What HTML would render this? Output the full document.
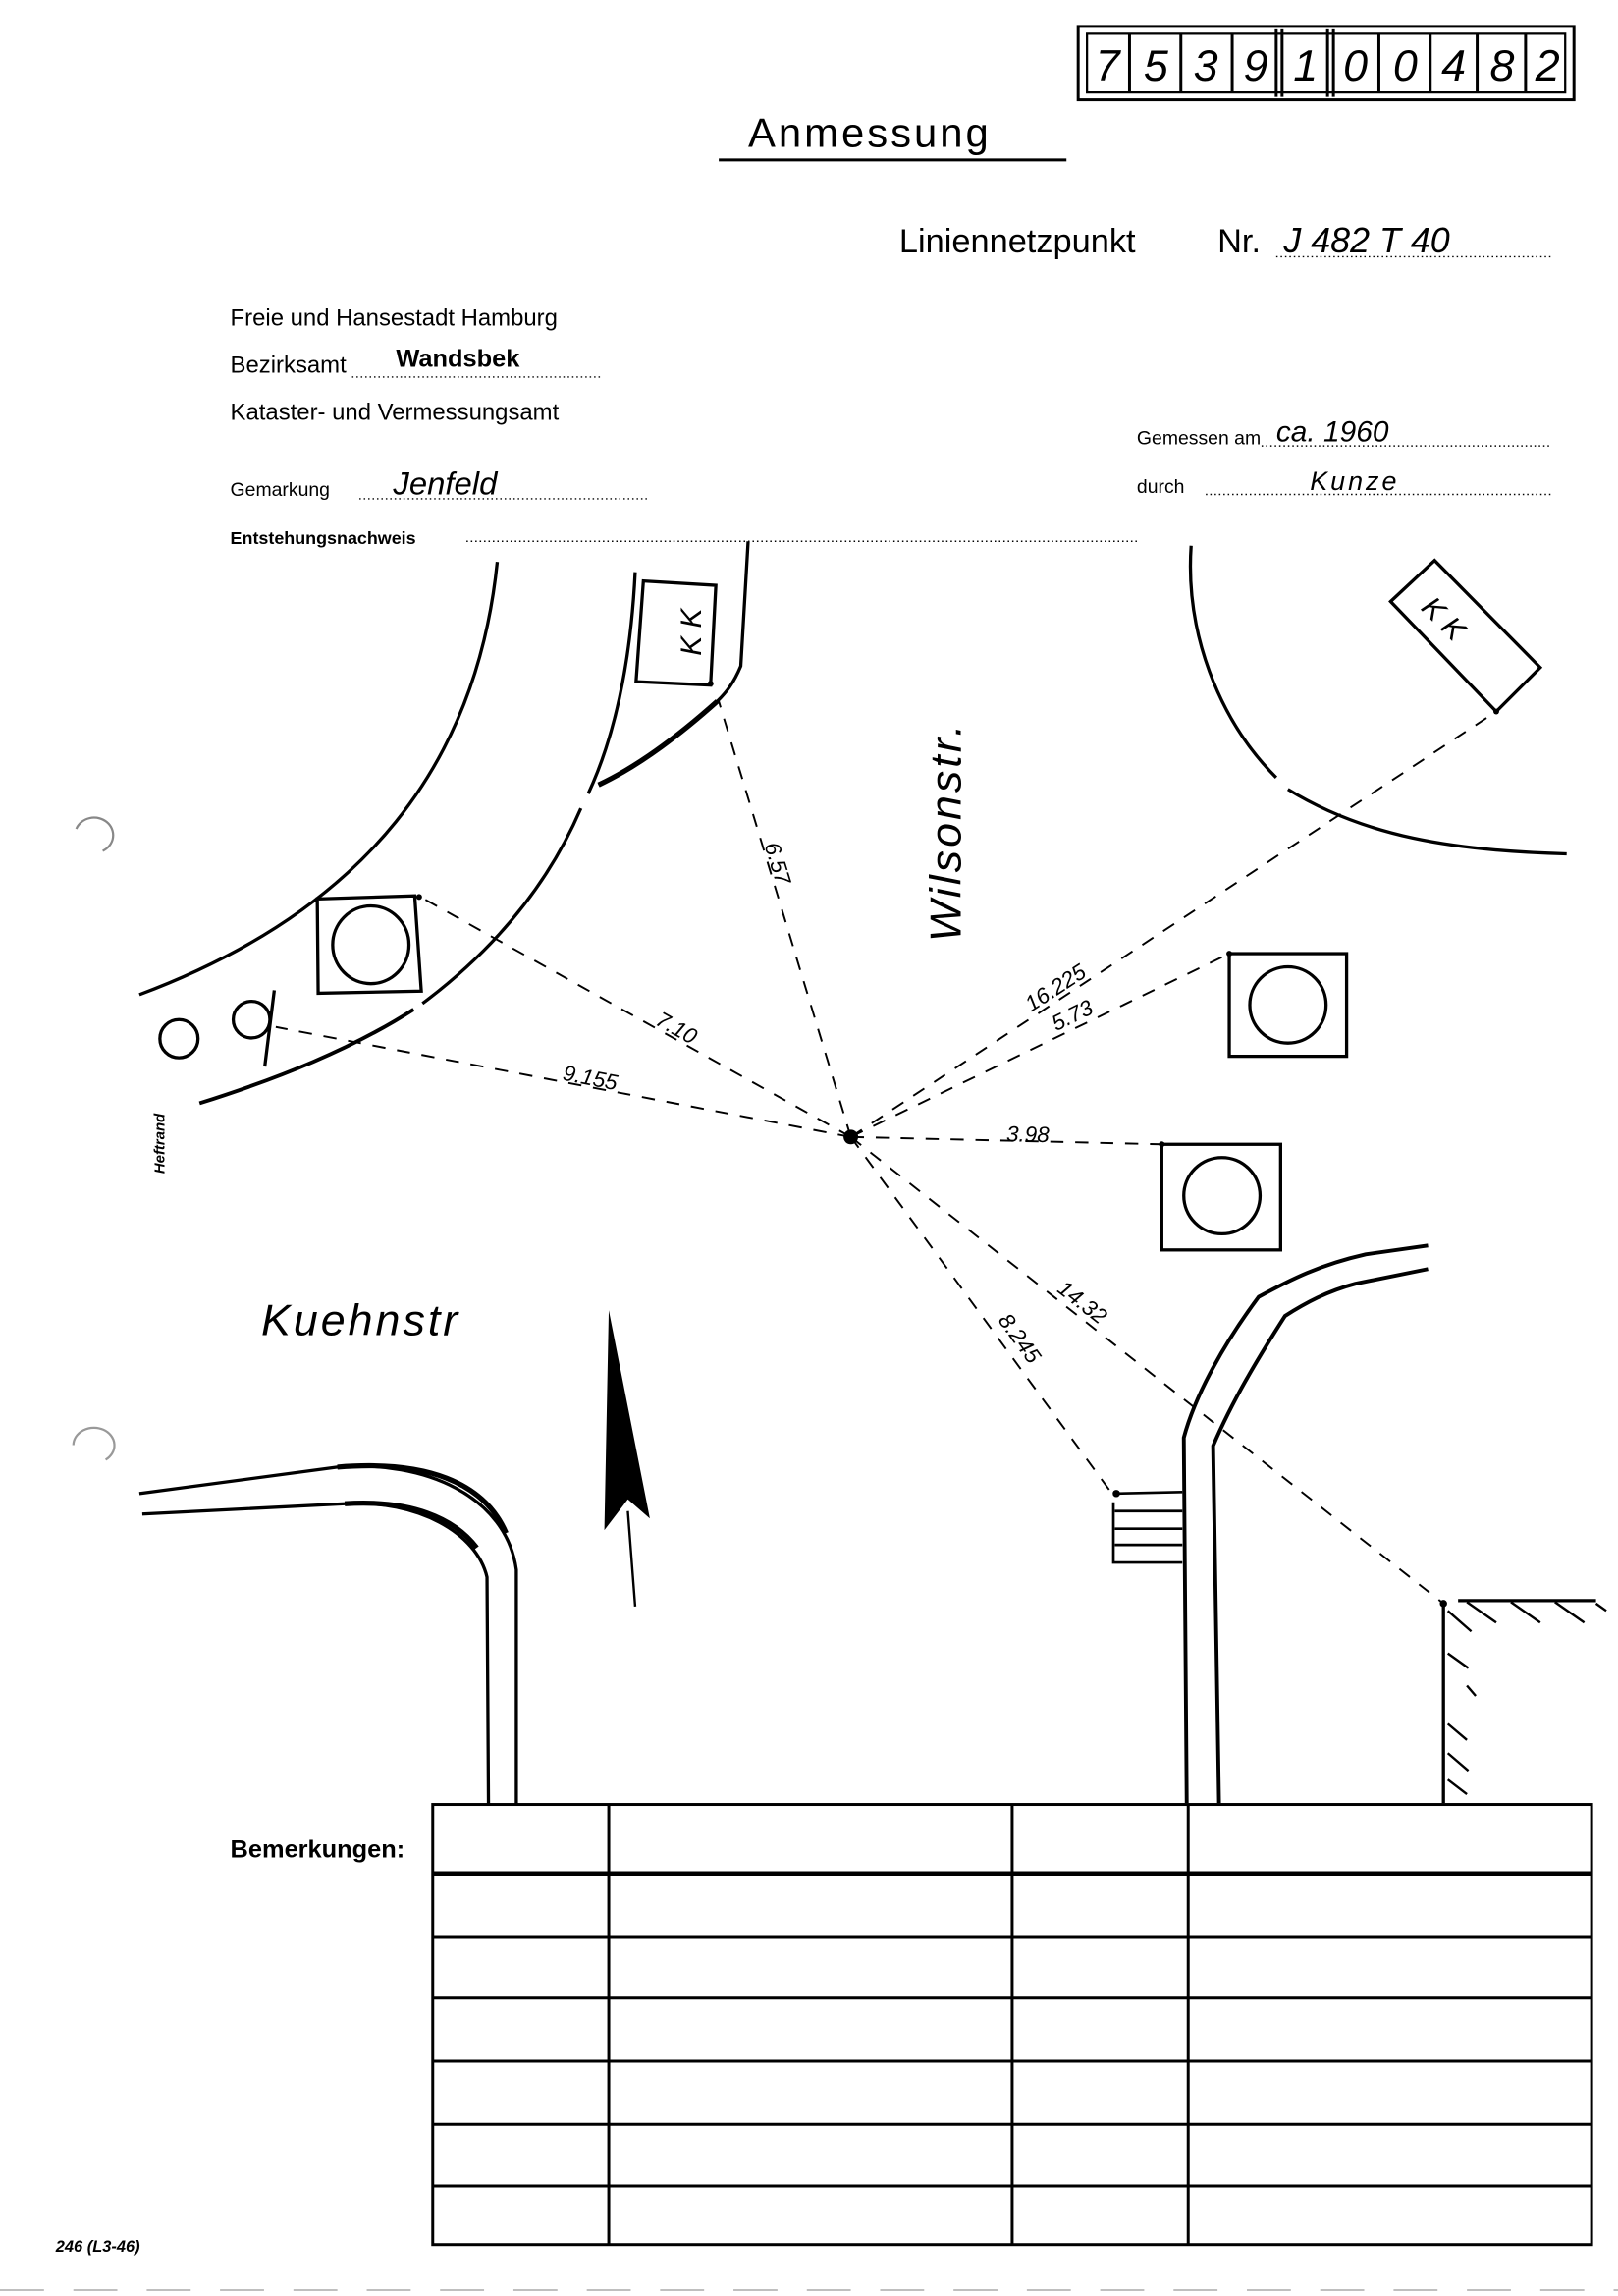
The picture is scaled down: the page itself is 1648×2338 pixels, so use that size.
<!DOCTYPE html>
<html><head><meta charset="utf-8"><style>
html,body{margin:0;padding:0;background:#fff}
svg{display:block}
text{font-family:"Liberation Sans",sans-serif;fill:#000}
.h{font-style:italic}
</style></head><body>
<svg width="1648" height="2338" viewBox="0 0 1103 1565" preserveAspectRatio="none" xmlns="http://www.w3.org/2000/svg">
<rect width="1103" height="1565" fill="#fff"/>
<g stroke="#000" fill="none" stroke-width="2">
<rect x="735" y="18" width="338" height="50"/>
<rect x="741" y="23" width="326" height="40" stroke-width="1.5"/>
<line x1="770" y1="23" x2="770" y2="63"/><line x1="805" y1="23" x2="805" y2="63"/><line x1="840" y1="23" x2="840" y2="63"/>
<line x1="870" y1="20" x2="870" y2="66"/><line x1="874" y1="20" x2="874" y2="66"/>
<line x1="905" y1="20" x2="905" y2="66"/><line x1="909" y1="20" x2="909" y2="66"/>
<line x1="940" y1="23" x2="940" y2="63"/><line x1="975" y1="23" x2="975" y2="63"/><line x1="1007" y1="23" x2="1007" y2="63"/><line x1="1040" y1="23" x2="1040" y2="63"/>
</g>
<g font-size="30" class="h" text-anchor="middle">
<text x="755" y="55">7</text><text x="788" y="55">5</text><text x="822" y="55">3</text><text x="856" y="55">9</text><text x="890" y="55">1</text><text x="924" y="55">0</text><text x="958" y="55">0</text><text x="991" y="55">4</text><text x="1024" y="55">8</text><text x="1055" y="55">2</text>
</g>
<text x="510" y="100" font-size="28" letter-spacing="2">Anmessung</text>
<line x1="490" y1="109" x2="727" y2="109" stroke="#000" stroke-width="2"/>
<text x="613" y="172" font-size="23">Liniennetzpunkt</text>
<text x="830" y="172" font-size="23">Nr.</text>
<text x="875" y="172" font-size="24" class="h">J 482 T 40</text>
<line x1="870" y1="175" x2="1058" y2="175" stroke="#000" stroke-width="1" stroke-dasharray="1,2"/>
<text x="157" y="222" font-size="16">Freie und Hansestadt Hamburg</text>
<text x="157" y="254" font-size="16">Bezirksamt</text>
<text x="270" y="250" font-size="17" font-weight="bold" font-family="Liberation Serif">Wandsbek</text>
<line x1="240" y1="257" x2="410" y2="257" stroke="#000" stroke-dasharray="1,2"/>
<text x="157" y="286" font-size="16">Kataster- und Vermessungsamt</text>
<text x="157" y="338" font-size="13">Gemarkung</text>
<text x="268" y="337" font-size="22" class="h">Jenfeld</text>
<line x1="245" y1="340" x2="443" y2="340" stroke="#000" stroke-dasharray="1,2"/>
<text x="157" y="371" font-size="12" font-weight="bold">Entstehungsnachweis</text>
<line x1="318" y1="369" x2="775" y2="369" stroke="#000" stroke-dasharray="1,2"/>
<text x="775" y="303" font-size="13">Gemessen am</text>
<text x="870" y="301" font-size="20" class="h">ca. 1960</text>
<line x1="860" y1="304" x2="1057" y2="304" stroke="#000" stroke-dasharray="1,2"/>
<text x="775" y="336" font-size="13">durch</text>
<text x="893" y="334" font-size="18" class="h" letter-spacing="2">Kunze</text>
<line x1="822" y1="337" x2="1057" y2="337" stroke="#000" stroke-dasharray="1,2"/>

<path d="M52,565 A13,12 0 1 1 70,580" fill="none" stroke="#888" stroke-width="1.5"/>
<path d="M50,985 A14,12 0 1 1 72,995" fill="none" stroke="#999" stroke-width="1.5"/>

<g fill="none" stroke="#000" stroke-width="2.2">
<path d="M339,383 C325,520 250,620 95,678"/>
<path d="M433,390 C430,450 420,500 401,541"/>
<path d="M396,551 C375,600 340,645 288,684"/>
<path d="M282,688 C240,715 190,735 136,752" stroke-width="2.6"/>
<path d="M510,369 L505,454 C500,466 495,472 489,478 C470,495 440,520 408,535" />
<path d="M489,478 C470,495 440,520 408,535" stroke-width="3.5"/>
<path d="M438.6,396 L488,399 L484.4,467 L433.6,464.6 Z"/>
<path d="M216.3,612.7 L282.7,610.6 L287.2,675.6 L216.9,677 Z"/>
<ellipse cx="252.8" cy="644" rx="26" ry="26.5"/>
<circle cx="122" cy="708" r="13"/>
<circle cx="171.5" cy="695" r="12.5"/>
<line x1="187" y1="675" x2="180.5" y2="727"/>
<path d="M812,372 C808,430 830,490 870,530"/>
<path d="M878,538 C930,570 990,580 1068,582"/>
<path d="M948,410 L978,382 L1050,455 L1020,485 Z"/>
<rect x="838" y="650" width="80" height="70"/><circle cx="878" cy="685" r="26"/>
<rect x="792" y="780" width="81" height="72"/><circle cx="833" cy="815" r="26"/>
<path d="M973.5,849 L931,855 C900,862 880,872 858,884 C835,915 815,950 807,980 L809,1229" stroke-width="2.6"/>
<path d="M973.5,865 L924,875 C905,880 890,888 876,897 C858,925 840,955 827,985.5 L831,1229" stroke-width="2.6"/>
<path d="M761,1018 L806,1017 M759,1024 L759,1065 L806,1065 M760,1030 L806,1030 M760,1042 L806,1042 M760,1053 L806,1053" stroke-width="1.8"/>
<path d="M984,1093 L984,1229 M994,1091 L1088,1091"/>
<path d="M1000,1092 L1020,1106 M1030,1092 L1050,1106 M1060,1092 L1080,1106 M1088,1093 L1095,1098 M987,1098 L1003,1112 M987,1127 L1001,1137 M1000,1149 L1006,1156 M987,1175 L1000,1186 M987,1195 L1001,1207 M987,1213 L1000,1223" stroke-width="1.6"/>
<path d="M95,1018 L230,1000 C290,995 345,1020 352,1070 L352,1230" stroke-width="2.2"/>
<path d="M97,1032 L235,1025 C285,1022 325,1045 332,1075 L333,1230" stroke-width="2.2"/>
<path d="M230,1000 C290,995 330,1010 345,1045 M235,1025 C280,1022 310,1035 325,1055" stroke-width="3.5"/>
<line x1="428" y1="1030" x2="433" y2="1095" stroke-width="1.6"/>
</g>
<polygon points="415,893 443,1035 428,1022 412,1043" fill="#000"/>
<g stroke="#000" stroke-width="1.3" stroke-dasharray="9,8" fill="none">
<line x1="580" y1="775" x2="490" y2="478"/>
<line x1="580" y1="775" x2="286" y2="611"/>
<line x1="580" y1="775" x2="188" y2="700"/>
<line x1="580" y1="775" x2="1020" y2="485"/>
<line x1="580" y1="775" x2="838" y2="650"/>
<line x1="580" y1="775" x2="792" y2="780"/>
<line x1="580" y1="775" x2="984" y2="1093"/>
<line x1="580" y1="775" x2="758" y2="1018"/>
</g>
<g fill="#000">
<circle cx="580" cy="775" r="5"/>
<circle cx="484.4" cy="466" r="2"/><circle cx="285.7" cy="611.4" r="2"/>
<circle cx="1020" cy="485" r="2"/><circle cx="838" cy="650" r="2"/><circle cx="792" cy="780" r="2"/>
<circle cx="984" cy="1093" r="2.5"/><circle cx="761" cy="1018" r="2.5"/>
</g>
<g class="h" font-size="15">
<text transform="translate(478,447) rotate(-90)" font-size="20">K K</text>
<text transform="translate(968,415) rotate(45)" font-size="20">K K</text>
<text transform="translate(521,576) rotate(73)">6.57</text>
<text transform="translate(446,698) rotate(29)">7.10</text>
<text transform="translate(383,736) rotate(11)">9.155</text>
<text transform="translate(703,690) rotate(-33)">16.225</text>
<text transform="translate(720,703) rotate(-26)">5.73</text>
<text transform="translate(686,778) rotate(1)">3.98</text>
<text transform="translate(720,880) rotate(38)">14.32</text>
<text transform="translate(680,900) rotate(54)">8.245</text>
</g>
<text transform="translate(655,642) rotate(-90)" font-size="30" class="h" letter-spacing="2">Wilsonstr.</text>
<text x="178" y="910" font-size="30" class="h" letter-spacing="2">Kuehnstr</text>
<text transform="translate(112,800) rotate(-90)" font-size="10" font-weight="bold" class="h">Heftrand</text>
<text x="38" y="1535" font-size="11" font-weight="bold" class="h">246 (L3-46)</text>
<text x="157" y="1266" font-size="17" font-weight="bold">Bemerkungen:</text>
<g stroke="#000" stroke-width="2" fill="none">
<rect x="295" y="1230" width="790" height="300"/>
<line x1="295" y1="1277" x2="1085" y2="1277" stroke-width="3"/>
<line x1="295" y1="1320" x2="1085" y2="1320"/>
<line x1="295" y1="1362" x2="1085" y2="1362"/>
<line x1="295" y1="1405" x2="1085" y2="1405"/>
<line x1="295" y1="1448" x2="1085" y2="1448"/>
<line x1="295" y1="1490" x2="1085" y2="1490"/>
<line x1="415" y1="1230" x2="415" y2="1530"/>
<line x1="690" y1="1230" x2="690" y2="1530"/>
<line x1="810" y1="1230" x2="810" y2="1530"/>
</g>
<line x1="0" y1="1561" x2="1103" y2="1561" stroke="#aaa" stroke-width="1" stroke-dasharray="30,20"/>
</svg>
</body></html>
